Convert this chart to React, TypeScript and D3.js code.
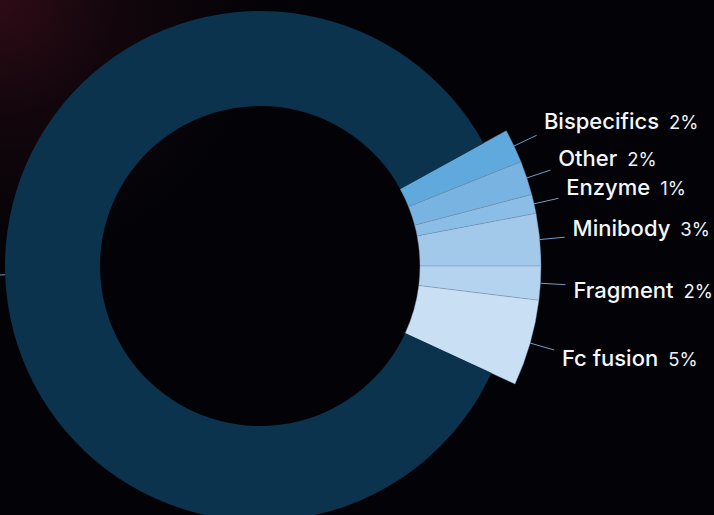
import React from "react";
import * as d3 from "d3";

const categories = ["Bispecifics", "Other", "Enzyme", "Minibody", "Fragment", "Fc fusion", "Monoclonal antibody"];
const shares = [1.95, 1.95, 1.1, 3.0, 1.95, 4.95, 85.1];
const colors = ["#5fa9dc", "#78b3e1", "#8bbee6", "#a2c8ea", "#b4d3ef", "#c9dff4", "#0b334d"];
const labelled = [true, true, true, true, true, true, false];

const W = 714;
const H = 515;
const CX = 260;
const CY = 266;
const R_IN = 160;
const R_MAIN = 255;
const R_SMALL = 281;
const START = (61.2 * Math.PI) / 180;

export default function App() {
  const data = categories.map((c, i) => ({ name: c, value: shares[i], color: colors[i], labelled: labelled[i] }));
  const pie = d3
    .pie<any>()
    .sort(null)
    .value((d) => d.value)
    .startAngle(START)
    .endAngle(START + Math.PI * 2);
  const arcs = pie(data);
  const arcGen = d3.arc<any>();

  const pt = (a: number, r: number) => [CX + r * Math.sin(a), CY - r * Math.cos(a)];

  return (
    <svg width={W} height={H} style={{ position: "absolute", left: 0, top: 0, display: "block" }}>
      <defs>
        <radialGradient id="glow" cx="0" cy="0" r="260" gradientUnits="userSpaceOnUse">
          <stop offset="0" stopColor="#2e0b16" />
          <stop offset="0.45" stopColor="#12060c" />
          <stop offset="1" stopColor="#030307" />
        </radialGradient>
      </defs>
      <rect x={0} y={0} width={W} height={H} fill="#030307" />
      <rect x={0} y={0} width={W} height={H} fill="url(#glow)" />
      <g>
        {arcs.map((a, i) => {
          const outer = a.data.labelled ? R_SMALL : R_MAIN;
          const d = arcGen({
            innerRadius: R_IN,
            outerRadius: outer,
            startAngle: a.startAngle,
            endAngle: a.endAngle,
          } as any) as string;
          return (
            <path
              key={i}
              d={d}
              transform={`translate(${CX},${CY})`}
              fill={a.data.color}
              stroke={a.data.labelled ? "#7394b3" : "none"}
              strokeWidth={0.4}
            />
          );
        })}
      </g>
      <g>
        {arcs.map((a, i) => {
          const mid = (a.startAngle + a.endAngle) / 2;
          const outer = a.data.labelled ? R_SMALL : R_MAIN;
          const [x1, y1] = pt(mid, outer);
          const [x2, y2] = pt(mid, outer + 25);
          return <line key={i} x1={x1} y1={y1} x2={x2} y2={y2} stroke="#6f9cc6" strokeWidth={1} />;
        })}
      </g>
      <g fontFamily="Inter, 'Open Sans', sans-serif">
        {arcs
          .filter((a) => a.data.labelled)
          .map((a, i) => {
            const mid = (a.startAngle + a.endAngle) / 2;
            const upper = Math.cos(mid) > 0;
            const x = CX + 314 * Math.sin(mid);
            const y = upper ? CY - 320 * Math.cos(mid) : CY - 318 * Math.cos(mid) + 13;
            return (
              <text key={i} x={x} y={y} fill="#f5f7fa">
                <tspan fontSize={22} fontWeight={500}>{a.data.name}</tspan>
                <tspan fontSize={18.5} fontWeight={400} dx={10} fill="#eef1f5">
                  {Math.round(a.data.value)}%
                </tspan>
              </text>
            );
          })}
      </g>
    </svg>
  );
}
